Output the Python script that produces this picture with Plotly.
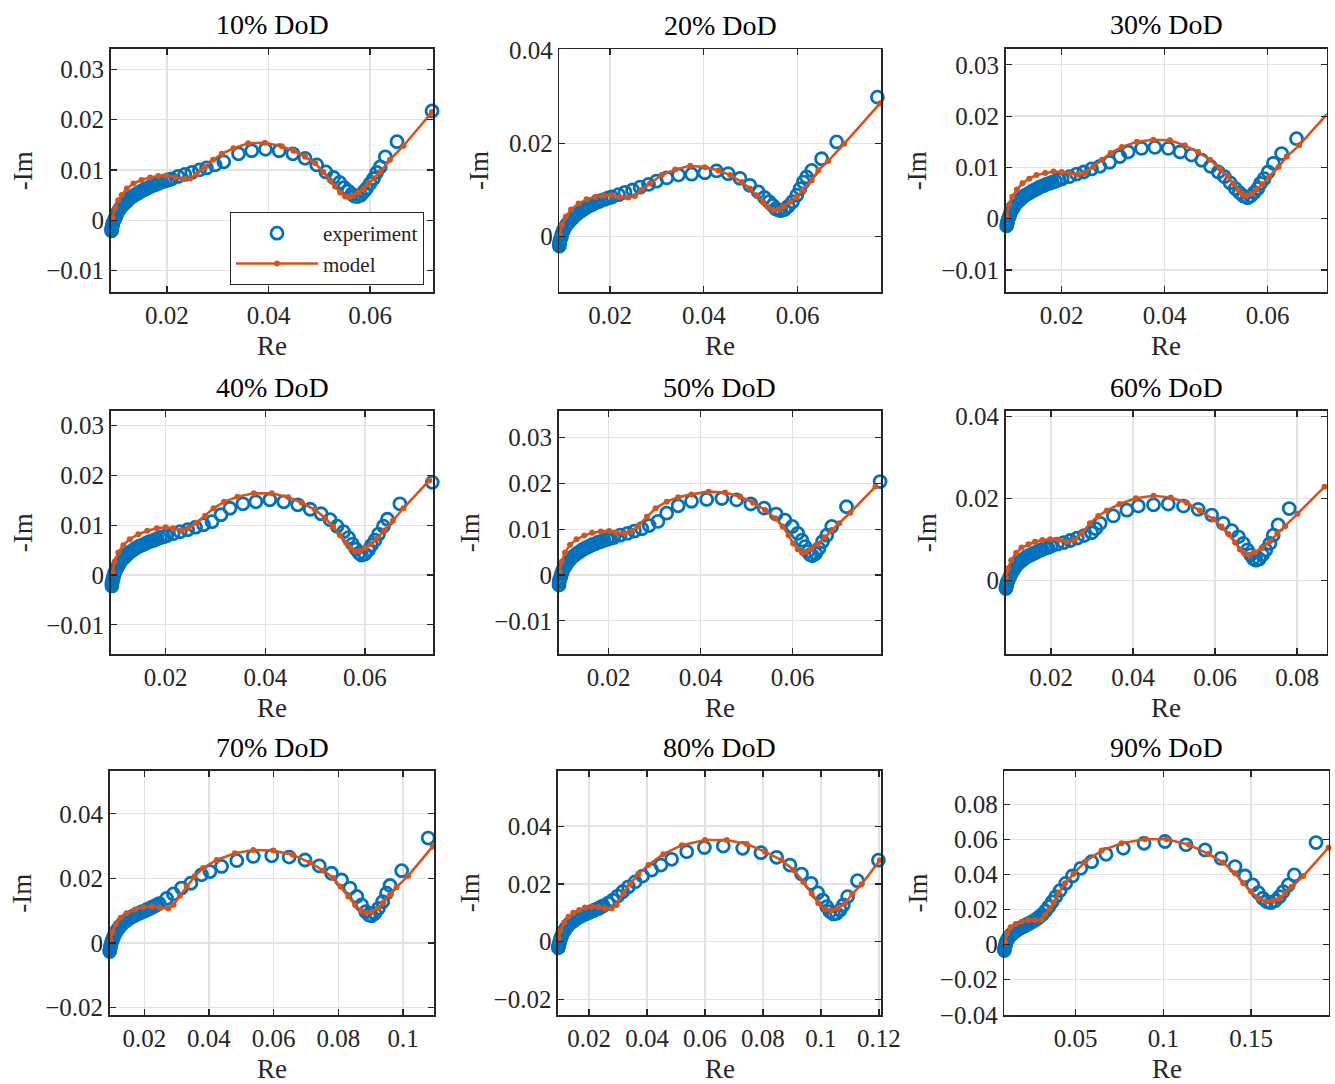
import plotly.graph_objects as go

# ---------------- data (Re, -Im) ----------------
TITLES = ["10% DoD", "20% DoD", "30% DoD", "40% DoD", "50% DoD",
          "60% DoD", "70% DoD", "80% DoD", "90% DoD"]

EXP10_RE = [0.0091,0.0091,0.0092,0.0093,0.0094,0.0096,0.0098,0.0100,0.0102,0.0104,0.0107,0.0110,0.0114,0.0118,0.0122,0.0126,0.0130,0.0135,0.0140,0.0145,0.0150,0.0155,0.0160,0.0166,0.0172,0.0178,0.0183,0.0190,0.0196,0.0203,0.0209,
            0.0222,0.0235,0.0249,0.0264,0.0278,0.0295,0.0312,0.0341,0.0367,0.0394,0.0421,0.0448,0.0472,0.0495,0.0513,0.0528,0.0540,0.0549,0.0557,0.0564,0.0569,0.0575,0.0582,0.0588,0.0593,0.0600,0.0607,0.0613,0.0620,0.0630,0.0653,0.0722]
EXP10_IM = [-0.0021,-0.0017,-0.0013,-0.0009,-0.0005,0.0000,0.0004,0.0009,0.0014,0.0018,0.0022,0.0027,0.0031,0.0035,0.0039,0.0043,0.0046,0.0049,0.0052,0.0055,0.0058,0.0061,0.0063,0.0066,0.0069,0.0071,0.0073,0.0076,0.0078,0.0080,0.0082,
            0.0087,0.0091,0.0095,0.0100,0.0104,0.0110,0.0116,0.0132,0.0138,0.0141,0.0138,0.0132,0.0123,0.0110,0.0096,0.0085,0.0075,0.0065,0.0058,0.0052,0.0048,0.0047,0.0050,0.0057,0.0063,0.0073,0.0083,0.0095,0.0106,0.0126,0.0156,0.0217]
MOD10_RE = [0.0093,0.0098,0.0104,0.0111,0.0121,0.0134,0.0150,0.0167,0.0183,0.0199,0.0216,0.0232,0.0245,0.0258,0.0275,0.0291,0.0308,0.0331,0.0360,0.0393,0.0426,0.0449,0.0472,0.0492,0.0508,0.0521,0.0531,0.0541,0.0551,0.0559,0.0567,0.0577,0.0587,0.0597,0.0607,0.0620,0.0639,0.0666,0.0722]
MOD10_IM = [0.0004,0.0024,0.0040,0.0050,0.0063,0.0073,0.0080,0.0085,0.0088,0.0089,0.0085,0.0082,0.0083,0.0091,0.0106,0.0120,0.0132,0.0143,0.0153,0.0154,0.0147,0.0138,0.0126,0.0113,0.0096,0.0080,0.0067,0.0055,0.0047,0.0046,0.0049,0.0055,0.0063,0.0073,0.0083,0.0096,0.0120,0.0148,0.0215]

EXP20_RE = [0.0092,0.0092,0.0093,0.0094,0.0096,0.0097,0.0099,0.0101,0.0104,0.0107,0.0111,0.0115,0.0120,0.0124,0.0129,0.0134,0.0140,0.0145,0.0150,0.0156,0.0162,0.0168,0.0175,0.0182,0.0189,0.0196,0.0204,
            0.0218,0.0232,0.0248,0.0264,0.0282,0.0299,0.0321,0.0346,0.0374,0.0402,0.0427,0.0452,0.0477,0.0498,0.0516,0.0529,0.0539,0.0547,0.0553,0.0559,0.0564,0.0572,0.0580,0.0589,0.0598,0.0605,0.0612,0.0619,0.0630,0.0651,0.0683,0.0770]
EXP20_IM = [-0.0020,-0.0015,-0.0011,-0.0006,-0.0001,0.0004,0.0009,0.0015,0.0020,0.0025,0.0030,0.0035,0.0039,0.0044,0.0048,0.0052,0.0056,0.0060,0.0063,0.0066,0.0069,0.0072,0.0075,0.0078,0.0080,0.0083,0.0085,
            0.0090,0.0095,0.0100,0.0106,0.0112,0.0119,0.0126,0.0132,0.0134,0.0137,0.0141,0.0135,0.0125,0.0110,0.0096,0.0084,0.0075,0.0067,0.0060,0.0057,0.0056,0.0058,0.0065,0.0075,0.0089,0.0103,0.0117,0.0128,0.0142,0.0167,0.0203,0.0299]
MOD20_RE = [0.0093,0.0098,0.0106,0.0117,0.0133,0.0150,0.0168,0.0186,0.0204,0.0221,0.0239,0.0253,0.0267,0.0285,0.0310,0.0339,0.0371,0.0402,0.0431,0.0456,0.0481,0.0498,0.0513,0.0527,0.0537,0.0548,0.0559,0.0569,0.0584,0.0598,0.0612,0.0630,0.0644,0.0665,0.0699,0.0776]
MOD20_IM = [0.0004,0.0025,0.0043,0.0058,0.0071,0.0080,0.0085,0.0088,0.0089,0.0085,0.0084,0.0087,0.0100,0.0114,0.0132,0.0144,0.0152,0.0149,0.0142,0.0132,0.0117,0.0103,0.0089,0.0073,0.0063,0.0057,0.0058,0.0064,0.0075,0.0085,0.0100,0.0121,0.0142,0.0162,0.0199,0.0286]

EXP30_RE = [0.0091,0.0091,0.0093,0.0094,0.0095,0.0096,0.0098,0.0100,0.0102,0.0104,0.0107,0.0110,0.0114,0.0118,0.0122,0.0127,0.0132,0.0137,0.0142,0.0147,0.0153,0.0158,0.0164,0.0170,0.0176,0.0182,0.0188,0.0195,0.0201,
            0.0215,0.0229,0.0243,0.0258,0.0274,0.0293,0.0313,0.0329,0.0355,0.0381,0.0407,0.0430,0.0452,0.0472,0.0489,0.0504,0.0516,0.0527,0.0537,0.0545,0.0553,0.0561,0.0567,0.0574,0.0581,0.0586,0.0593,0.0601,0.0611,0.0627,0.0656,0.0718]
EXP30_IM = [-0.0023,-0.0018,-0.0014,-0.0010,-0.0006,-0.0001,0.0004,0.0009,0.0014,0.0019,0.0023,0.0028,0.0032,0.0036,0.0040,0.0044,0.0047,0.0050,0.0053,0.0056,0.0059,0.0062,0.0064,0.0067,0.0069,0.0071,0.0073,0.0076,0.0078,
            0.0082,0.0087,0.0091,0.0097,0.0102,0.0110,0.0121,0.0130,0.0137,0.0139,0.0137,0.0130,0.0124,0.0114,0.0102,0.0091,0.0082,0.0070,0.0059,0.0051,0.0044,0.0041,0.0044,0.0051,0.0059,0.0069,0.0078,0.0091,0.0108,0.0127,0.0156,0.0189]
MOD30_RE = [0.0093,0.0098,0.0104,0.0113,0.0124,0.0137,0.0151,0.0168,0.0184,0.0200,0.0216,0.0232,0.0245,0.0261,0.0278,0.0295,0.0317,0.0346,0.0378,0.0410,0.0439,0.0465,0.0488,0.0507,0.0522,0.0533,0.0543,0.0551,0.0559,0.0569,0.0579,0.0590,0.0603,0.0621,0.0637,0.0661,0.0716]
MOD30_IM = [0.0004,0.0027,0.0043,0.0057,0.0069,0.0078,0.0085,0.0089,0.0092,0.0091,0.0088,0.0086,0.0089,0.0101,0.0115,0.0128,0.0140,0.0150,0.0154,0.0153,0.0143,0.0130,0.0115,0.0098,0.0083,0.0069,0.0056,0.0047,0.0045,0.0049,0.0057,0.0067,0.0082,0.0101,0.0121,0.0143,0.0205]

EXP40_RE = [0.0092,0.0092,0.0093,0.0094,0.0095,0.0096,0.0098,0.0100,0.0103,0.0105,0.0108,0.0111,0.0115,0.0119,0.0123,0.0127,0.0132,0.0137,0.0142,0.0147,0.0153,0.0159,0.0165,0.0171,0.0177,0.0183,0.0189,0.0196,0.0202,
            0.0215,0.0229,0.0244,0.0260,0.0276,0.0293,0.0311,0.0329,0.0355,0.0381,0.0409,0.0437,0.0465,0.0490,0.0512,0.0530,0.0544,0.0557,0.0567,0.0575,0.0582,0.0588,0.0593,0.0600,0.0607,0.0613,0.0620,0.0627,0.0637,0.0645,0.0670,0.0735]
EXP40_IM = [-0.0022,-0.0017,-0.0013,-0.0009,-0.0005,0.0000,0.0005,0.0010,0.0015,0.0020,0.0024,0.0029,0.0033,0.0037,0.0041,0.0045,0.0048,0.0052,0.0055,0.0058,0.0060,0.0063,0.0066,0.0068,0.0070,0.0073,0.0075,0.0077,0.0079,
            0.0083,0.0087,0.0091,0.0096,0.0101,0.0107,0.0121,0.0134,0.0143,0.0147,0.0151,0.0147,0.0141,0.0132,0.0123,0.0111,0.0098,0.0087,0.0075,0.0062,0.0052,0.0044,0.0040,0.0042,0.0050,0.0060,0.0070,0.0082,0.0098,0.0112,0.0143,0.0186]
MOD40_RE = [0.0093,0.0098,0.0105,0.0115,0.0128,0.0145,0.0163,0.0182,0.0200,0.0215,0.0232,0.0245,0.0262,0.0279,0.0296,0.0317,0.0344,0.0377,0.0413,0.0446,0.0473,0.0500,0.0520,0.0536,0.0550,0.0562,0.0571,0.0580,0.0590,0.0600,0.0612,0.0625,0.0640,0.0656,0.0677,0.0729]
MOD40_IM = [0.0005,0.0027,0.0045,0.0060,0.0072,0.0082,0.0089,0.0094,0.0096,0.0094,0.0090,0.0094,0.0105,0.0119,0.0134,0.0147,0.0157,0.0164,0.0164,0.0156,0.0145,0.0131,0.0114,0.0097,0.0080,0.0065,0.0054,0.0047,0.0048,0.0054,0.0062,0.0074,0.0090,0.0109,0.0134,0.0190]

EXP50_RE = [0.0092,0.0092,0.0093,0.0094,0.0096,0.0097,0.0099,0.0101,0.0104,0.0107,0.0110,0.0113,0.0117,0.0121,0.0126,0.0131,0.0136,0.0141,0.0146,0.0152,0.0158,0.0164,0.0170,0.0176,0.0183,0.0190,0.0197,0.0204,0.0211,
            0.0225,0.0241,0.0256,0.0272,0.0288,0.0307,0.0326,0.0351,0.0380,0.0413,0.0446,0.0478,0.0509,0.0538,0.0564,0.0583,0.0599,0.0611,0.0620,0.0627,0.0633,0.0638,0.0643,0.0650,0.0657,0.0665,0.0674,0.0685,0.0717,0.0790]
EXP50_IM = [-0.0022,-0.0016,-0.0012,-0.0008,-0.0004,0.0002,0.0007,0.0012,0.0017,0.0022,0.0026,0.0031,0.0035,0.0039,0.0043,0.0047,0.0050,0.0054,0.0057,0.0060,0.0063,0.0066,0.0068,0.0071,0.0073,0.0076,0.0078,0.0080,0.0082,
            0.0087,0.0091,0.0096,0.0101,0.0108,0.0117,0.0135,0.0151,0.0161,0.0165,0.0167,0.0164,0.0155,0.0146,0.0133,0.0120,0.0106,0.0091,0.0076,0.0062,0.0051,0.0044,0.0042,0.0047,0.0058,0.0073,0.0087,0.0106,0.0149,0.0204]
MOD50_RE = [0.0093,0.0098,0.0105,0.0116,0.0130,0.0147,0.0164,0.0183,0.0201,0.0217,0.0234,0.0249,0.0264,0.0283,0.0302,0.0326,0.0351,0.0380,0.0417,0.0453,0.0486,0.0514,0.0540,0.0562,0.0578,0.0591,0.0601,0.0611,0.0620,0.0628,0.0640,0.0654,0.0670,0.0685,0.0701,0.0725,0.0780]
MOD50_IM = [0.0007,0.0029,0.0049,0.0066,0.0078,0.0086,0.0092,0.0095,0.0096,0.0092,0.0091,0.0095,0.0107,0.0127,0.0146,0.0160,0.0170,0.0176,0.0182,0.0180,0.0171,0.0158,0.0142,0.0124,0.0106,0.0087,0.0069,0.0056,0.0049,0.0050,0.0056,0.0067,0.0082,0.0098,0.0113,0.0136,0.0193]

EXP60_RE = [0.0089,0.0090,0.0091,0.0092,0.0093,0.0095,0.0098,0.0100,0.0102,0.0105,0.0109,0.0112,0.0116,0.0120,0.0125,0.0130,0.0135,0.0140,0.0146,0.0152,0.0159,0.0165,0.0172,0.0178,0.0185,0.0192,0.0200,
            0.0215,0.0231,0.0247,0.0264,0.0281,0.0299,0.0309,0.0320,0.0352,0.0385,0.0413,0.0450,0.0486,0.0523,0.0559,0.0592,0.0620,0.0641,0.0657,0.0669,0.0679,0.0687,0.0693,0.0700,0.0708,0.0716,0.0724,0.0734,0.0742,0.0754,0.0781,0.0875]
EXP60_IM = [-0.0025,-0.0019,-0.0015,-0.0010,-0.0005,0.0000,0.0006,0.0011,0.0016,0.0022,0.0027,0.0032,0.0037,0.0042,0.0046,0.0050,0.0054,0.0058,0.0061,0.0064,0.0067,0.0070,0.0073,0.0076,0.0079,0.0081,0.0084,
            0.0089,0.0093,0.0098,0.0104,0.0110,0.0117,0.0127,0.0140,0.0158,0.0172,0.0182,0.0185,0.0187,0.0182,0.0174,0.0160,0.0140,0.0122,0.0107,0.0091,0.0075,0.0063,0.0054,0.0050,0.0053,0.0063,0.0075,0.0091,0.0111,0.0136,0.0176,0.0254]
MOD60_RE = [0.0090,0.0096,0.0103,0.0115,0.0128,0.0145,0.0161,0.0179,0.0198,0.0218,0.0238,0.0256,0.0275,0.0295,0.0315,0.0336,0.0367,0.0407,0.0450,0.0492,0.0531,0.0563,0.0596,0.0616,0.0633,0.0649,0.0661,0.0673,0.0684,0.0698,0.0714,0.0733,0.0752,0.0771,0.0801,0.0867]
MOD60_IM = [0.0006,0.0030,0.0050,0.0068,0.0081,0.0089,0.0095,0.0099,0.0101,0.0099,0.0095,0.0099,0.0115,0.0140,0.0158,0.0171,0.0187,0.0201,0.0207,0.0203,0.0190,0.0171,0.0150,0.0132,0.0114,0.0093,0.0076,0.0065,0.0063,0.0069,0.0080,0.0095,0.0115,0.0133,0.0163,0.0229]

EXP70_RE = [0.0093,0.0094,0.0095,0.0096,0.0098,0.0100,0.0102,0.0105,0.0108,0.0111,0.0115,0.0119,0.0124,0.0128,0.0133,0.0138,0.0144,0.0150,0.0157,0.0163,0.0170,0.0177,0.0185,0.0192,0.0200,0.0207,0.0215,0.0223,0.0231,0.0238,0.0246,
            0.0269,0.0290,0.0315,0.0344,0.0377,0.0403,0.0439,0.0486,0.0537,0.0594,0.0648,0.0697,0.0741,0.0779,0.0810,0.0836,0.0857,0.0872,0.0885,0.0895,0.0903,0.0913,0.0924,0.0937,0.0949,0.0960,0.0996,0.1078]
EXP70_IM = [-0.0026,-0.0019,-0.0013,-0.0007,-0.0001,0.0006,0.0012,0.0019,0.0026,0.0032,0.0038,0.0044,0.0050,0.0055,0.0060,0.0065,0.0069,0.0074,0.0078,0.0082,0.0085,0.0089,0.0092,0.0096,0.0099,0.0103,0.0106,0.0110,0.0114,0.0118,0.0122,
            0.0138,0.0152,0.0170,0.0185,0.0211,0.0221,0.0237,0.0255,0.0268,0.0270,0.0266,0.0257,0.0239,0.0216,0.0195,0.0170,0.0144,0.0118,0.0097,0.0087,0.0084,0.0092,0.0107,0.0128,0.0154,0.0178,0.0224,0.0325]
MOD70_RE = [0.0095,0.0102,0.0112,0.0127,0.0145,0.0171,0.0197,0.0223,0.0248,0.0274,0.0290,0.0310,0.0331,0.0355,0.0382,0.0424,0.0480,0.0537,0.0599,0.0659,0.0712,0.0754,0.0785,0.0807,0.0831,0.0852,0.0869,0.0886,0.0903,0.0922,0.0939,0.0960,0.0980,0.1016,0.1092]
MOD70_IM = [0.0007,0.0035,0.0059,0.0078,0.0092,0.0104,0.0111,0.0113,0.0109,0.0107,0.0118,0.0146,0.0175,0.0206,0.0232,0.0257,0.0278,0.0288,0.0286,0.0273,0.0249,0.0224,0.0201,0.0175,0.0144,0.0118,0.0100,0.0094,0.0097,0.0107,0.0125,0.0149,0.0173,0.0208,0.0299]

EXP80_RE = [0.0093,0.0094,0.0095,0.0097,0.0099,0.0101,0.0103,0.0106,0.0109,0.0112,0.0116,0.0120,0.0124,0.0128,0.0133,0.0139,0.0145,0.0151,0.0157,0.0164,0.0171,0.0178,0.0186,0.0193,0.0201,0.0209,0.0217,0.0225,0.0233,0.0241,0.0249,
            0.0266,0.0282,0.0299,0.0316,0.0336,0.0359,0.0385,0.0416,0.0448,0.0485,0.0537,0.0598,0.0663,0.0730,0.0793,0.0847,0.0893,0.0933,0.0966,0.0989,0.1006,0.1020,0.1031,0.1043,0.1054,0.1066,0.1077,0.1092,0.1126,0.1198]
EXP80_IM = [-0.0029,-0.0021,-0.0015,-0.0008,-0.0001,0.0007,0.0014,0.0021,0.0028,0.0034,0.0040,0.0046,0.0052,0.0057,0.0062,0.0067,0.0071,0.0076,0.0080,0.0084,0.0088,0.0092,0.0095,0.0098,0.0101,0.0105,0.0108,0.0112,0.0115,0.0120,0.0124,
            0.0133,0.0144,0.0158,0.0173,0.0190,0.0207,0.0227,0.0248,0.0265,0.0285,0.0311,0.0326,0.0331,0.0323,0.0308,0.0292,0.0265,0.0234,0.0202,0.0169,0.0144,0.0121,0.0104,0.0096,0.0098,0.0110,0.0127,0.0156,0.0211,0.0282]
MOD80_RE = [0.0095,0.0102,0.0114,0.0129,0.0146,0.0166,0.0186,0.0209,0.0232,0.0255,0.0278,0.0295,0.0318,0.0341,0.0370,0.0405,0.0456,0.0520,0.0600,0.0675,0.0744,0.0807,0.0864,0.0905,0.0939,0.0968,0.0991,0.1014,0.1034,0.1057,0.1083,0.1108,0.1140,0.1203]
MOD80_IM = [0.0012,0.0040,0.0066,0.0086,0.0100,0.0110,0.0118,0.0121,0.0120,0.0115,0.0115,0.0127,0.0167,0.0199,0.0234,0.0265,0.0303,0.0334,0.0352,0.0352,0.0338,0.0311,0.0282,0.0248,0.0207,0.0167,0.0133,0.0112,0.0107,0.0115,0.0133,0.0165,0.0199,0.0282]

EXP90_RE = [0.0093,0.0095,0.0097,0.0100,0.0103,0.0107,0.0112,0.0118,0.0125,0.0133,0.0141,0.0149,0.0158,0.0167,0.0177,0.0187,0.0198,0.0209,0.0221,0.0232,0.0243,0.0254,0.0266,0.0276,0.0287,0.0297,0.0308,
            0.0327,0.0346,0.0365,0.0386,0.0411,0.0443,0.0481,0.0529,0.0591,0.0673,0.0772,0.0890,0.1009,0.1129,0.1238,0.1329,0.1409,0.1466,0.1510,0.1542,0.1567,0.1589,0.1612,0.1637,0.1662,0.1684,0.1713,0.1747,0.1871]
EXP90_IM = [-0.0033,-0.0021,-0.0011,0.0000,0.0011,0.0022,0.0032,0.0041,0.0050,0.0058,0.0065,0.0072,0.0078,0.0085,0.0091,0.0097,0.0103,0.0108,0.0114,0.0120,0.0126,0.0132,0.0139,0.0146,0.0154,0.0162,0.0171,
            0.0192,0.0217,0.0244,0.0274,0.0309,0.0350,0.0392,0.0436,0.0474,0.0516,0.0550,0.0579,0.0589,0.0570,0.0541,0.0493,0.0446,0.0392,0.0341,0.0297,0.0265,0.0246,0.0240,0.0250,0.0274,0.0303,0.0341,0.0398,0.0583]
MOD90_RE = [0.0097,0.0110,0.0129,0.0158,0.0192,0.0230,0.0268,0.0306,0.0325,0.0350,0.0373,0.0401,0.0439,0.0487,0.0553,0.0648,0.0762,0.0895,0.1019,0.1146,0.1257,0.1342,0.1409,0.1456,0.1500,0.1542,0.1586,0.1627,0.1665,0.1694,0.1732,0.1798,0.1942]
MOD90_IM = [0.0011,0.0065,0.0099,0.0118,0.0131,0.0141,0.0141,0.0141,0.0170,0.0202,0.0240,0.0293,0.0350,0.0404,0.0474,0.0537,0.0579,0.0602,0.0602,0.0570,0.0518,0.0469,0.0408,0.0350,0.0303,0.0265,0.0246,0.0251,0.0265,0.0293,0.0331,0.0392,0.0554]

EXPERIMENT = [(EXP10_RE, EXP10_IM), (EXP20_RE, EXP20_IM), (EXP30_RE, EXP30_IM),
              (EXP40_RE, EXP40_IM), (EXP50_RE, EXP50_IM), (EXP60_RE, EXP60_IM),
              (EXP70_RE, EXP70_IM), (EXP80_RE, EXP80_IM), (EXP90_RE, EXP90_IM)]
MODEL = [(MOD10_RE, MOD10_IM), (MOD20_RE, MOD20_IM), (MOD30_RE, MOD30_IM),
         (MOD40_RE, MOD40_IM), (MOD50_RE, MOD50_IM), (MOD60_RE, MOD60_IM),
         (MOD70_RE, MOD70_IM), (MOD80_RE, MOD80_IM), (MOD90_RE, MOD90_IM)]

# tick values per panel
X_TICKS = [[0.02, 0.04, 0.06]] * 5 + [[0.02, 0.04, 0.06, 0.08],
           [0.02, 0.04, 0.06, 0.08, 0.1],
           [0.02, 0.04, 0.06, 0.08, 0.1, 0.12],
           [0.05, 0.1, 0.15]]
Y_A = [-0.01, 0, 0.01, 0.02, 0.03]
Y_TICKS = [Y_A, [0, 0.02, 0.04], Y_A, Y_A, Y_A, [0, 0.02, 0.04],
           [-0.02, 0, 0.02, 0.04], [-0.02, 0, 0.02, 0.04],
           [-0.04, -0.02, 0, 0.02, 0.04, 0.06, 0.08]]

# axis limits (tight x, equal aspect)
X_RANGES = [[0.00893, 0.07245], [0.00919, 0.07776], [0.00913, 0.07146],
            [0.00896, 0.07371], [0.00913, 0.0792], [0.00895, 0.08724],
            [0.0093, 0.10968], [0.00931, 0.1208], [0.00927, 0.19432]]
Y_RANGES = [[-0.01423, 0.0340], [-0.01185, 0.04015], [-0.01429, 0.03308],
            [-0.01586, 0.03293], [-0.01725, 0.03581], [-0.01788, 0.04139],
            [-0.02238, 0.05325], [-0.02547, 0.05907], [-0.0403, 0.09914]]

# ---------------- layout geometry (page pixels) ----------------
W, H = 1335, 1084
BOXES = [(110.7, 433.3, 49, 292), (559.3, 881, 49.3, 292), (1005.7, 1326.7, 49, 292),
         (110.7, 433.3, 411, 654), (558.7, 881, 411, 654), (1005.7, 1326.7, 411, 654),
         (109.7, 434.3, 771, 1015.3), (558, 881.3, 771, 1015.3), (1004.3, 1328.7, 771, 1015.3)]
YLAB_OFF = [88, 81, 89, 88, 89, 79, 88, 88, 86]

BLUE = "#0072BD"
ORANGE = "#D95319"
INK = "#262626"
FONT = "Liberation Serif, DejaVu Serif, serif"


def px_x(p):
    return p / W


def px_y(p):
    return 1 - p / H


def fmt(v):
    s = f"{v:g}"
    return s.replace("-", "\u2212")


fig = go.Figure()
layout = dict(width=W, height=H, autosize=False,
              margin=dict(l=0, r=0, t=0, b=0, pad=0, autoexpand=False),
              paper_bgcolor="white", plot_bgcolor="white",
              font=dict(family=FONT, color=INK, size=24),
              showlegend=True, hovermode=False)
annotations = []

for i in range(9):
    n = i + 1
    sx = "" if n == 1 else str(n)
    xa, ya = "x" + sx, "y" + sx
    l, r, t, b = BOXES[i]
    ex, ey = EXPERIMENT[i]
    mx, my = MODEL[i]
    ne, nm = min(len(ex), len(ey)), min(len(mx), len(my))
    fig.add_trace(go.Scatter(
        x=ex[:ne], y=ey[:ne], mode="markers", name="experiment",
        marker=dict(symbol="circle-open", size=12, color=BLUE,
                    line=dict(width=2.8, color=BLUE)),
        xaxis=xa, yaxis=ya, showlegend=(n == 1), cliponaxis=False,
        legendgroup="exp"))
    fig.add_trace(go.Scatter(
        x=mx[:nm], y=my[:nm], mode="lines+markers", name="model",
        line=dict(color=ORANGE, width=2.6),
        marker=dict(symbol="circle", size=6, color=ORANGE),
        xaxis=xa, yaxis=ya, showlegend=(n == 1), cliponaxis=False,
        legendgroup="mod"))

    common = dict(showline=True, mirror="ticks", linecolor=INK, linewidth=1.6,
                  ticks="inside", ticklen=6, tickwidth=1.2, tickcolor=INK,
                  showgrid=True, gridcolor="#e2e2e2", gridwidth=1.3,
                  zeroline=False, tickfont=dict(family=FONT, size=25, color=INK),
                  fixedrange=True, automargin=False)
    layout["xaxis" + sx] = dict(common, domain=[px_x(l), px_x(r)], anchor=ya,
                                range=X_RANGES[i], tickmode="array",
                                tickvals=X_TICKS[i],
                                ticktext=[fmt(v) for v in X_TICKS[i]])
    layout["yaxis" + sx] = dict(common, domain=[px_y(b), px_y(t)], anchor=xa,
                                range=Y_RANGES[i], tickmode="array",
                                tickvals=Y_TICKS[i],
                                ticktext=[fmt(v) for v in Y_TICKS[i]])

    cx = (l + r) / 2
    annotations.append(dict(text=TITLES[i], x=px_x(cx), y=px_y(t - 24),
                            xref="paper", yref="paper", xanchor="center",
                            yanchor="middle", showarrow=False,
                            font=dict(family=FONT, size=28, color="#000000")))
    annotations.append(dict(text="Re", x=px_x(cx), y=px_y(b + 54),
                            xref="paper", yref="paper", xanchor="center",
                            yanchor="middle", showarrow=False,
                            font=dict(family=FONT, size=27, color=INK)))
    annotations.append(dict(text="-Im", x=px_x(l - YLAB_OFF[i]), y=px_y((t + b) / 2),
                            xref="paper", yref="paper", xanchor="center",
                            yanchor="middle", showarrow=False, textangle=-90,
                            font=dict(family=FONT, size=27, color=INK)))

layout["annotations"] = annotations
layout["legend"] = dict(x=px_x(424), xanchor="right", y=px_y(285), yanchor="bottom",
                        bgcolor="white", bordercolor=INK, borderwidth=1,
                        font=dict(family=FONT, size=21, color=INK),
                        itemwidth=82, tracegroupgap=0)
fig.update_layout(**layout)

# remove the page's default body margin so the figure sits at the window origin
fig.write_html("out.html",
               config={"displayModeBar": False, "staticPlot": True},
               post_script="document.body.style.margin='0';"
                           "document.body.style.overflow='hidden';")
